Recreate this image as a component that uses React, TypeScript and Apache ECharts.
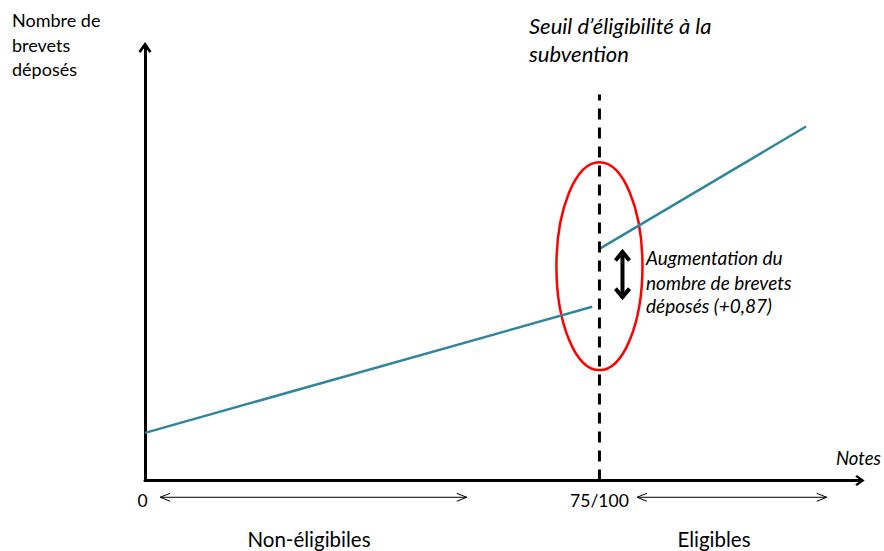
import { useEffect, useRef } from "react";
import * as echarts from "echarts";

const FONT = "Lato, 'Liberation Sans', sans-serif";

// ---- data (arbitrary units) ----
const nonEligibleLine: number[][] = [[0, 0.88], [73.8, 3.21]];
const eligibleLine: number[][] = [[75, 4.28], [109.1, 6.54]];
const thresholdLine: number[][] = [[75, 0], [75, 7.13]];
const xTickValues = [0, 75];
const xTickLabels = ["0", "75/100"];
const xMax = 118;
const yMax = 8;
const jumpArrow = { x: 78.8, y0: 3.36, y1: 4.25 };
const ellipseData = { cx: 75, cy: 3.96, rx: 7.1, ry: 1.92 };
const rangeY = -0.31;
const nonEligibleRange = [2.5, 53.1];
const eligibleRange = [81.2, 112.5];

const axisArrow = "path://M6 0 L12 8.5 L10.1 10.2 L6 4.3 L1.9 10.2 L0 8.5 Z";

export default function App() {
  const ref = useRef<HTMLDivElement>(null);
  useEffect(() => {
    document.body.style.margin = "0";
    const chart = echarts.init(ref.current!, null, { renderer: "svg" });
    chart.setOption({
      animation: false,
      grid: { left: 145, right: 24, top: 47.5, bottom: 70.5 },
      xAxis: {
        type: "value",
        min: 0,
        max: xMax,
        splitLine: { show: false },
        axisTick: { show: false },
        axisLine: {
          show: true,
          onZero: false,
          symbol: ["none", axisArrow],
          symbolSize: [11, 10],
          lineStyle: { color: "#000", width: 3 },
        },
        axisLabel: {
          customValues: xTickValues,
          formatter: (v: number) => {
            const i = xTickValues.indexOf(v);
            if (i < 0) return "";
            return i === 0 ? `{z|${xTickLabels[i]}}` : xTickLabels[i];
          },
          rich: {
            z: { padding: [0, 5, 0, 0], fontSize: 17.5, fontFamily: FONT, color: "#000" },
          },
          color: "#000",
          fontSize: 17.5,
          fontFamily: FONT,
          margin: 11,
          hideOverlap: false,
        },
      },
      yAxis: {
        type: "value",
        min: 0,
        max: yMax,
        splitLine: { show: false },
        axisTick: { show: false },
        axisLabel: { show: false },
        axisLine: {
          show: true,
          onZero: false,
          symbol: ["none", axisArrow],
          symbolSize: [13, 11],
          lineStyle: { color: "#000", width: 3 },
        },
      },
      series: [
        {
          type: "line",
          data: nonEligibleLine,
          symbol: "none",
          lineStyle: { color: "#31859C", width: 2.5 },
          z: 3,
        },
        {
          type: "line",
          data: eligibleLine,
          symbol: "none",
          lineStyle: { color: "#31859C", width: 2.5 },
          z: 3,
        },
        {
          type: "line",
          data: thresholdLine,
          symbol: "none",
          lineStyle: { color: "#000", width: 3, type: [11, 8] },
          z: 4,
        },
      ],
    });

    const px = (x: number, y: number) =>
      chart.convertToPixel({ gridIndex: 0 }, [x, y]) as number[];

    const els: any[] = [];
    const text = (
      t: string,
      x: number,
      baseline: number,
      fs: number,
      italic = false,
      align = "left"
    ) => {
      els.push({
        type: "text",
        x,
        y: baseline - 0.387 * fs,
        z: 10,
        style: {
          text: t,
          font: `${italic ? "italic " : ""}${fs}px ${FONT}`,
          fill: "#000",
          align,
          verticalAlign: "middle",
        },
      });
    };

    // ellipse
    const c = px(ellipseData.cx, ellipseData.cy);
    const e1 = px(ellipseData.cx + ellipseData.rx, ellipseData.cy + ellipseData.ry);
    els.push({
      type: "ellipse",
      z: 1,
      shape: { cx: c[0], cy: c[1], rx: e1[0] - c[0], ry: c[1] - e1[1] },
      style: { fill: "none", stroke: "#FF0000", lineWidth: 2.5 },
    });

    // thick double arrow
    const a0 = px(jumpArrow.x, jumpArrow.y0);
    const a1 = px(jumpArrow.x, jumpArrow.y1);
    const ax = a0[0];
    els.push({
      type: "line",
      z: 10,
      shape: { x1: ax, y1: a1[1] + 1, x2: ax, y2: a0[1] - 1 },
      style: { stroke: "#000", lineWidth: 4 },
    });
    els.push({
      type: "polyline",
      z: 10,
      shape: { points: [[ax - 7, a1[1] + 10], [ax, a1[1] + 1.5], [ax + 7, a1[1] + 10]] },
      style: { stroke: "#000", lineWidth: 4, fill: "none", lineJoin: "miter" },
    });
    els.push({
      type: "polyline",
      z: 10,
      shape: { points: [[ax - 7, a0[1] - 10], [ax, a0[1] - 1.5], [ax + 7, a0[1] - 10]] },
      style: { stroke: "#000", lineWidth: 4, fill: "none", lineJoin: "miter" },
    });

    // thin range arrows
    const rangeArrow = (r: number[]) => {
      const p0 = px(r[0], rangeY);
      const p1 = px(r[1], rangeY);
      const y = p0[1];
      els.push({
        type: "line",
        z: 10,
        shape: { x1: p0[0], y1: y, x2: p1[0], y2: y },
        style: { stroke: "#000", lineWidth: 1 },
      });
      els.push({
        type: "polyline",
        z: 10,
        shape: { points: [[p0[0] + 10, y - 4], [p0[0], y], [p0[0] + 10, y + 4]] },
        style: { stroke: "#000", lineWidth: 1, fill: "none" },
      });
      els.push({
        type: "polyline",
        z: 10,
        shape: { points: [[p1[0] - 10, y - 4], [p1[0], y], [p1[0] - 10, y + 4]] },
        style: { stroke: "#000", lineWidth: 1, fill: "none" },
      });
    };
    rangeArrow(nonEligibleRange);
    rangeArrow(eligibleRange);

    // texts
    text("Nombre de", 12, 27, 18);
    text("brevets", 12, 52, 18);
    text("déposés", 12, 76, 18);
    text("Seuil d’éligibilité à la", 529, 34, 22, true);
    text("subvention", 529, 62, 22, true);
    text("Augmentation du", 646, 265, 19, true);
    text("nombre de brevets", 646, 289.5, 19, true);
    text("déposés (+0,87)", 646, 313, 19, true);
    text("Notes", 836, 465, 18.5, true);
    text("Non-éligibiles", 309, 547, 20.5, false, "center");
    text("Eligibles", 714, 547, 20.5, false, "center");

    chart.setOption({ graphic: { elements: els } });
    return () => chart.dispose();
  }, []);
  return <div ref={ref} style={{ width: 884, height: 551 }} />;
}
